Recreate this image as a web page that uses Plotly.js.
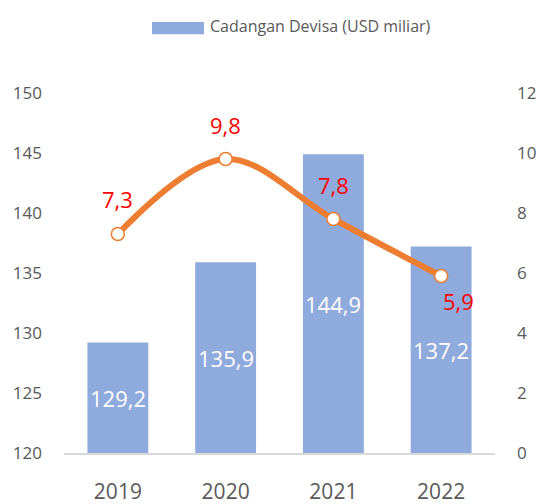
<!DOCTYPE html>
<html>
<head>
<meta charset="utf-8">
<script src="https://cdn.plot.ly/plotly-3.0.1.min.js"></script>
<style>html,body{margin:0;padding:0;background:#fff;}#chart{width:537px;height:504px;}</style>
</head>
<body>
<div id="chart"></div>
<script>
var years = ["2019", "2020", "2021", "2022"];
var reserves = [129.2, 135.9, 144.9, 137.2];
var reserveLabels = ["129,2", "135,9", "144,9", "137,2"];
var lineValues = [7.3, 9.8, 7.8, 5.9];
var lineLabels = ["7,3", "9,8", "7,8", "5,9"];
var legendName = "Cadangan Devisa (USD miliar)";
var leftRange = [120, 150];
var rightRange = [0, 12];

var FONT = "Open Sans, Noto Sans, sans-serif";
var GRAY = "#595959";

var barTrace = {
  type: "bar",
  x: years,
  y: reserves,
  name: legendName,
  marker: {color: "#8FAADC"},
  width: 0.565,
  hoverinfo: "none",
  showlegend: false
};

var lineTrace = {
  type: "scatter",
  mode: "lines+markers",
  x: years,
  y: lineValues,
  yaxis: "y2",
  line: {color: "#ED7D31", width: 6, shape: "spline", smoothing: 1},
  marker: {size: 13, color: "#ffffff", line: {color: "#ED7D31", width: 1.5}},
  hoverinfo: "none",
  showlegend: false,
  cliponaxis: false
};

var annotations = [];
// bar value labels, centred on the visible part of each bar
reserves.forEach(function (v, i) {
  annotations.push({
    x: i, y: (leftRange[0] + v) / 2, xref: "x", yref: "y",
    text: reserveLabels[i], showarrow: false,
    font: {color: "#ffffff", size: 22, family: FONT}
  });
});
var shifts = [[0, 35], [0, 34], [0, 34], [17, -25]];
lineValues.forEach(function (v, i) {
  annotations.push({
    x: i, y: v, xref: "x", yref: "y2",
    text: lineLabels[i], showarrow: false,
    xshift: shifts[i][0], yshift: shifts[i][1],
    font: {color: "#FF0000", size: 22, family: FONT}
  });
});
annotations.push({
  xref: "paper", yref: "paper", x: 0.3347, y: 1.187,
  xanchor: "left", yanchor: "middle",
  text: legendName, showarrow: false,
  font: {color: GRAY, size: 16, family: FONT}
});

var layout = {
  width: 537, height: 504,
  margin: {l: 64, r: 42, t: 93, b: 51, pad: 0},
  paper_bgcolor: "#ffffff", plot_bgcolor: "#ffffff",
  font: {family: FONT, color: GRAY},
  showlegend: false,
  xaxis: {
    type: "category",
    categoryorder: "array", categoryarray: years,
    range: [-0.5, years.length - 0.5], autorange: false,
    showgrid: false, zeroline: false,
    showline: true, linecolor: "#D9D9D9", linewidth: 1.5,
    ticks: "", tickfont: {size: 21, color: GRAY, family: FONT},
    ticklabelstandoff: 19
  },
  yaxis: {
    range: leftRange, autorange: false, dtick: 5, tick0: 120,
    showgrid: false, zeroline: false, showline: false,
    ticks: "", tickfont: {size: 17, color: GRAY, family: FONT},
    ticklabelstandoff: 21
  },
  yaxis2: {
    range: rightRange, autorange: false, dtick: 2, tick0: 0,
    overlaying: "y", side: "right",
    showgrid: false, zeroline: false, showline: false,
    ticks: "", tickfont: {size: 17, color: GRAY, family: FONT},
    ticklabelstandoff: 21
  },
  shapes: [{
    type: "rect", xref: "paper", yref: "paper",
    x0: 0.2042, x1: 0.3248, y0: 1.163, y1: 1.197,
    fillcolor: "#8FAADC", line: {width: 0}
  }],
  annotations: annotations
};

Plotly.newPlot("chart", [barTrace, lineTrace], layout, {displayModeBar: false, staticPlot: true});
</script>
</body>
</html>
